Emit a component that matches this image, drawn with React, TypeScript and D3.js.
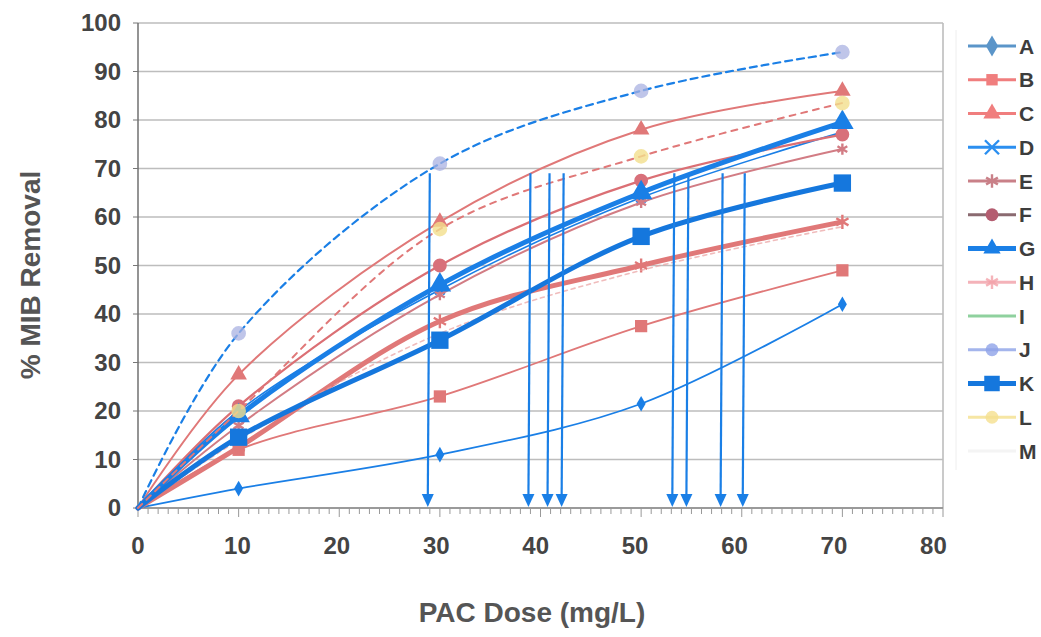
import React from 'react';
import * as d3 from 'd3';

// PAC doses (mg/L) and % MIB removal per carbon
const doses = [0, 10, 30, 50, 70];
const seriesNames = ['A', 'B', 'C', 'D', 'E', 'F', 'G', 'H', 'I', 'J', 'K', 'L', 'M'];
const valuesA = [0, 4, 11, 21.5, 42];
const valuesB = [0, 12, 23, 37.5, 49];
const valuesC = [0, 27.5, 59, 78, 86];
const valuesD = [0, 20, 45, 64, 77.5];
const valuesE = [0, 17, 44, 63, 74];
const valuesF = [0, 21, 50, 67.5, 77];
const valuesG = [0, 19, 46, 65, 79.5];
const valuesH = [0, 12.5, 38.5, 50, 59];
const valuesI = [0, 14, 36, 49, 58];
const valuesJ = [0, 36, 71, 86, 94];
const valuesK = [0, 14.6, 34.6, 56, 67];
const valuesL = [0, 20, 57.5, 72.5, 83.5];
const valuesM: number[] = [];

// hand drawn read-off arrows (dose where each curve hits ~69 %)
const arrowDoses = [28.8, 38.8, 40.7, 42.1, 53.1, 54.5, 57.9, 60.1];
const arrowTop = 69;

const xTicks = [0, 10, 20, 30, 40, 50, 60, 70, 80];
const yTicks = [0, 10, 20, 30, 40, 50, 60, 70, 80, 90, 100];

const W = 1041;
const H = 637;
const x = d3.scaleLinear().domain([0, 80]).range([138, 943]);
const y = d3.scaleLinear().domain([0, 100]).range([508, 23]);

const BLUE = '#1a7fe6';
const SALMON = '#e07878';

type Style = {
  line: string; width: number; dash?: string; lineOpacity?: number;
  marker?: d3.SymbolType; mSize?: number; mFill?: string; mStroke?: boolean; mOpacity?: number;
  legend: string; legendMarker?: string; legendOpacity?: number;
};

const styles: Record<string, Style> = {
  A: { line: BLUE, width: 1.8, marker: d3.symbolDiamond, mSize: 70, mFill: BLUE, legend: '#5b95c9' },
  B: { line: SALMON, width: 1.8, marker: d3.symbolSquare, mSize: 150, mFill: SALMON, legend: '#f07e7e' },
  C: { line: SALMON, width: 2, marker: d3.symbolTriangle, mSize: 120, mFill: SALMON, legend: '#f07e7e' },
  D: { line: BLUE, width: 1.6, marker: d3.symbolX, mSize: 60, mFill: BLUE, mStroke: true, legend: '#2b8ff0' },
  E: { line: '#d27c84', width: 2, marker: d3.symbolAsterisk, mSize: 90, mFill: '#d27c84', mStroke: true, legend: '#c98088' },
  F: { line: '#db6f74', width: 2.2, marker: d3.symbolCircle, mSize: 150, mFill: '#d8707a', legend: '#8a6a70', legendMarker: '#b45d70' },
  G: { line: BLUE, width: 5, marker: d3.symbolTriangle, mSize: 220, mFill: BLUE, legend: BLUE },
  H: { line: SALMON, width: 5, marker: d3.symbolAsterisk, mSize: 140, mFill: SALMON, mStroke: true, legend: '#f2a0a8', legendOpacity: 0.8 },
  I: { line: '#eaa0a0', width: 1.6, dash: '4 4', lineOpacity: 0.7, legend: '#8fd19e' },
  J: { line: BLUE, width: 2.2, dash: '7 5', marker: d3.symbolCircle, mSize: 170, mFill: '#a9b2e2', mOpacity: 0.75, legend: '#8ea3e8', legendOpacity: 0.8 },
  K: { line: '#1577dd', width: 5, marker: d3.symbolSquare, mSize: 300, mFill: '#1577dd', legend: '#1577dd' },
  L: { line: SALMON, width: 2, dash: '6 6', marker: d3.symbolCircle, mSize: 170, mFill: '#f3de8c', mOpacity: 0.8, legend: '#f5e08e', legendOpacity: 0.8 },
  M: { line: '#f2f2f2', width: 1, legend: '#f4f4f4' },
};

const valuesBySeries: Record<string, number[]> = {
  A: valuesA, B: valuesB, C: valuesC, D: valuesD, E: valuesE, F: valuesF, G: valuesG,
  H: valuesH, I: valuesI, J: valuesJ, K: valuesK, L: valuesL, M: valuesM,
};

const lineGen = d3.line<[number, number]>()
  .x(d => x(d[0]))
  .y(d => y(d[1]))
  .curve(d3.curveCatmullRom.alpha(0.5));

const tickFont = { fontFamily: 'Liberation Sans, Arial, sans-serif', fontWeight: 700 as const };

function Marker({ cx, cy, s }: { cx: number; cy: number; s: Style }) {
  if (!s.marker) return null;
  const path = d3.symbol().type(s.marker).size(s.mSize || 100)() || '';
  return (
    <path
      d={path}
      transform={`translate(${cx},${cy})`}
      fill={s.mStroke ? 'none' : s.mFill}
      stroke={s.mStroke ? s.mFill : 'none'}
      strokeWidth={s.mStroke ? 2.4 : 0}
      opacity={s.mOpacity ?? 1}
    />
  );
}

export default function App() {
  const minor = d3.range(0, 81, 1);
  const legendY = d3.scaleLinear().domain([0, 12]).range([46, 451]);

  return (
    <svg width={W} height={H} style={{ position: 'absolute', left: 0, top: 0, background: '#fff' }}>
      {/* plot frame + grid */}
      {yTicks.map(t => (
        <line key={'g' + t} x1={x(0)} x2={x(80)} y1={y(t)} y2={y(t)} stroke="#bdbdbd" strokeWidth={1.6} />
      ))}
      <line x1={x(80)} x2={x(80)} y1={y(100)} y2={y(0)} stroke="#bdbdbd" strokeWidth={1.6} />
      <line x1={x(0)} x2={x(0)} y1={y(100)} y2={y(0)} stroke="#666" strokeWidth={1.4} />
      <line x1={x(0)} x2={x(80)} y1={y(0)} y2={y(0)} stroke="#888" strokeWidth={1.4} />
      {yTicks.map(t => (
        <line key={'yt' + t} x1={x(0) - 5} x2={x(0)} y1={y(t)} y2={y(t)} stroke="#777" strokeWidth={1} />
      ))}
      {minor.map(t => (
        <line key={'xm' + t} x1={x(t)} x2={x(t)} y1={y(0)} y2={y(0) + (t % 10 === 0 ? 9 : 6)}
          stroke="#999" strokeWidth={1} />
      ))}

      {/* axis labels */}
      {yTicks.map(t => (
        <text key={'yl' + t} x={121} y={y(t)} dy="0.35em" textAnchor="end" fontSize={24} fill="#444" {...tickFont}>
          {t}
        </text>
      ))}
      {xTicks.map(t => (
        <text key={'xl' + t} x={x(t) - t * 0.12} y={554} textAnchor="middle" fontSize={24} fill="#444" {...tickFont}>
          {t}
        </text>
      ))}
      <text transform="translate(40,275) rotate(-90)" textAnchor="middle" fontSize={28} fill="#555" {...tickFont}>
        % MIB Removal
      </text>
      <text x={532} y={622} textAnchor="middle" fontSize={28} fill="#555" {...tickFont}>
        PAC Dose (mg/L)
      </text>

      {/* series */}
      {seriesNames.map(name => {
        const vals = valuesBySeries[name];
        const s = styles[name];
        if (!vals.length) return null;
        const pts = doses.map((d, i) => [d, vals[i]] as [number, number]);
        return (
          <g key={name}>
            <path d={lineGen(pts) || ''} fill="none" stroke={s.line} strokeWidth={s.width}
              strokeDasharray={s.dash} opacity={s.lineOpacity ?? 1} strokeLinecap="round" />
            {pts.filter(p => p[0] > 0).map((p, i) => (
              <Marker key={i} cx={x(p[0])} cy={y(p[1])} s={s} />
            ))}
          </g>
        );
      })}

      {/* read-off arrows */}
      {arrowDoses.map((d, i) => {
        const ax = x(d);
        const tip = y(0) - 1;
        return (
          <g key={'ar' + i}>
            <line x1={ax + 2} x2={ax} y1={y(arrowTop)} y2={tip - 10} stroke={BLUE} strokeWidth={2.2} />
            <path d={`M${ax - 6},${tip - 13}L${ax + 6},${tip - 13}L${ax},${tip}Z`} fill={BLUE} />
          </g>
        );
      })}

      {/* legend */}
      <line x1={956} x2={956} y1={30} y2={470} stroke="#eee" strokeWidth={1} />
      {seriesNames.map((name, i) => {
        const s = styles[name];
        const ly = legendY(i);
        const ms: Style = { ...s, mFill: s.legendMarker || s.legend, mOpacity: s.legendOpacity ?? 1 };
        return (
          <g key={'lg' + name}>
            <line x1={968} x2={1016} y1={ly} y2={ly} stroke={s.legend}
              strokeWidth={name === 'G' || name === 'K' ? 5 : 3} opacity={s.legendOpacity ?? 1} />
            {name !== 'M' && <Marker cx={992} cy={ly} s={{ ...ms, mSize: name === 'K' ? 240 : 130 }} />}
            <text x={1019} y={ly} dy="0.36em" fontSize={21} fill="#3d3d3d" {...tickFont}>{name}</text>
          </g>
        );
      })}
    </svg>
  );
}
